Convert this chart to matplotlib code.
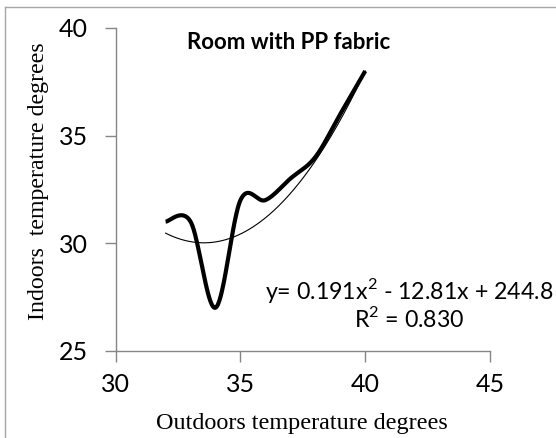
import numpy as np
import matplotlib
matplotlib.use("Agg")
import matplotlib.pyplot as plt
from matplotlib.lines import Line2D

# Data
outdoor = [32, 33, 34, 35, 36, 37, 38, 39, 40]
indoor = [31, 31, 27, 32, 32, 33, 34, 36, 38]
trend_coef = [0.191, -12.81, 244.8]   # y = a x^2 + b x + c
x_ticks = [30, 35, 40, 45]
y_ticks = [25, 30, 35, 40]

title = "Room with PP fabric"
eq_text = "y= 0.191x$^2$ - 12.81x + 244.8"
r2_text = "R$^2$ = 0.830"
xlabel = "Outdoors temperature degrees"
ylabel = "Indoors  temperature degrees"


def smooth_line(xs, ys, n=40):
    """Excel-like smoothed line (Catmull-Rom through the points)."""
    p = np.column_stack([xs, ys]).astype(float)
    p = np.vstack([p[0], p, p[-1]])
    out = []
    t = np.linspace(0, 1, n)[:, None]
    for i in range(1, len(p) - 2):
        p0, p1, p2, p3 = p[i - 1], p[i], p[i + 1], p[i + 2]
        c1 = p1 + (p2 - p0) / 6
        c2 = p2 - (p3 - p1) / 6
        seg = ((1 - t) ** 3) * p1 + 3 * ((1 - t) ** 2) * t * c1 \
            + 3 * (1 - t) * t ** 2 * c2 + t ** 3 * p2
        out.append(seg if i == 1 else seg[1:])
    out = np.vstack(out)
    return out[:, 0], out[:, 1]


plt.rcParams["font.family"] = ["Lato", "DejaVu Sans"]
plt.rcParams["mathtext.fontset"] = "custom"
plt.rcParams["mathtext.rm"] = "Lato"

fig = plt.figure(figsize=(5.56, 4.38), dpi=100)
ax = fig.add_axes([0.2081, 0.1993, 0.6732, 0.7368])

sx, sy = smooth_line(outdoor, indoor)
ax.plot(sx, sy, color="black", lw=3.0, solid_capstyle="butt", zorder=3)

tx = np.linspace(min(outdoor), max(outdoor), 200)
ax.plot(tx, np.polyval(trend_coef, tx), color="black", lw=0.8, zorder=2)

ax.set_xlim(30, 45)
ax.set_ylim(25, 40)
ax.set_xticks(x_ticks)
ax.set_yticks(y_ticks)
ax.tick_params(axis="both", direction="out", length=8, width=1,
               color="#868686", labelsize=18)
ax.tick_params(axis="x", pad=8)
ax.tick_params(axis="y", pad=12)
for side in ["top", "right"]:
    ax.spines[side].set_visible(False)
for side in ["left", "bottom"]:
    ax.spines[side].set_color("#868686")
    ax.spines[side].set_linewidth(1)

ax.text(36.94, 39.33, title, fontsize=16, fontweight="bold",
        ha="center", va="center")
ax.text(41.75, 27.8, eq_text, fontsize=16.7, ha="center", va="center",
        clip_on=False)
ax.text(41.75, 26.48, r2_text, fontsize=16.7, ha="center", va="center",
        clip_on=False)

fig.text(302 / 556, 1 - 424 / 438, xlabel, family="Liberation Serif",
         fontsize=17.4, ha="center", va="center")
fig.text(39 / 556, 1 - 181.5 / 438, ylabel, family="Liberation Serif",
         fontsize=17.2, ha="center", va="center", rotation=90)

# chart area border (only left and top edges fall inside the image)
fig.add_artist(Line2D([4.5 / 556, 4.5 / 556], [0, 1 - 7 / 438],
                      transform=fig.transFigure, color="#a6a6a6", lw=1))
fig.add_artist(Line2D([4.5 / 556, 1], [1 - 7 / 438, 1 - 7 / 438],
                      transform=fig.transFigure, color="#a6a6a6", lw=1))

fig.savefig("out.png", dpi=100)
